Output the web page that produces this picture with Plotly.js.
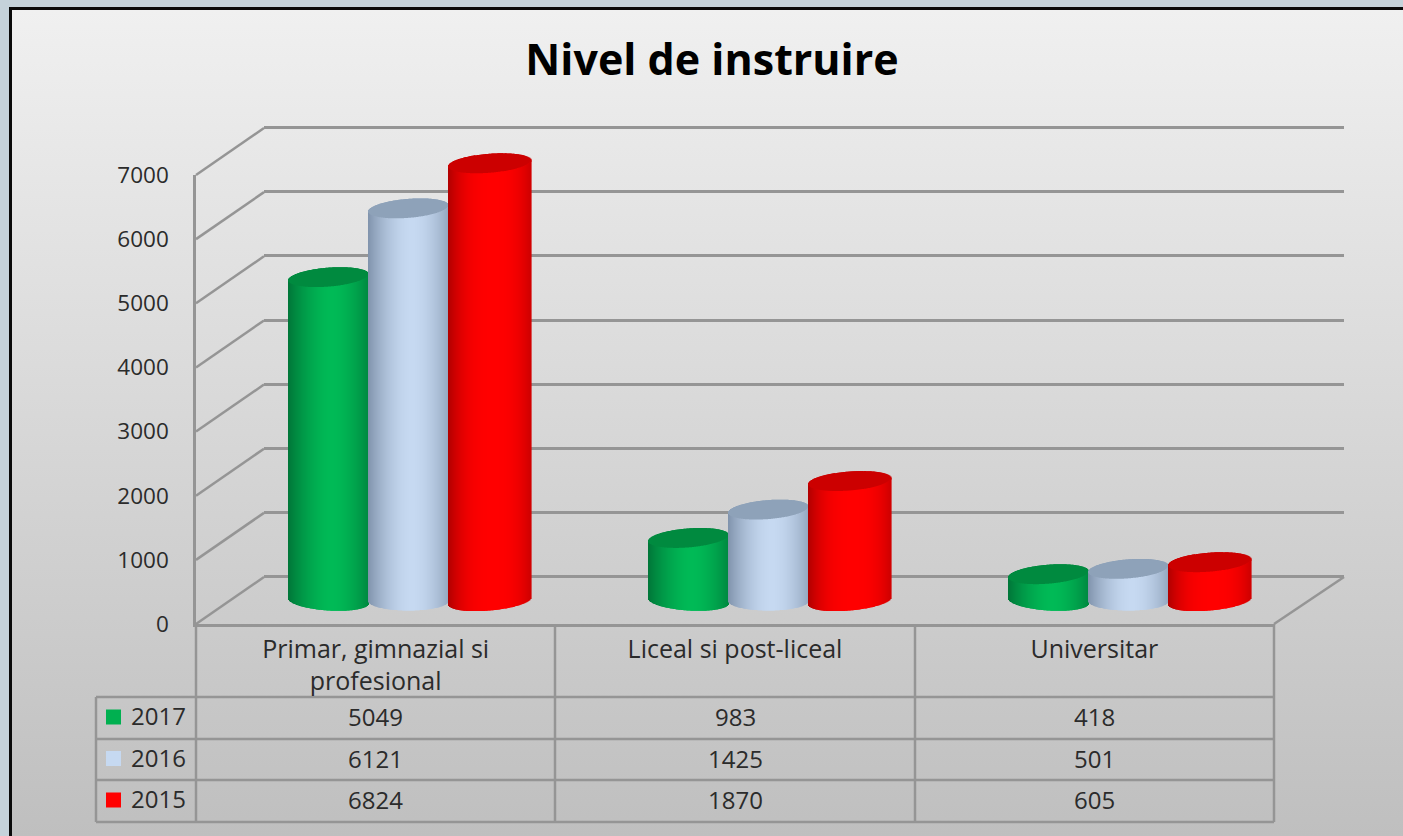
<!DOCTYPE html>
<html><head><meta charset="utf-8">
<script src="https://cdn.plot.ly/plotly-3.0.1.min.js"></script>
<style>
html,body{margin:0;padding:0;background:#c5d2da;overflow:hidden}
#frame{position:absolute;left:9px;top:7px;width:1394px;height:829px;box-sizing:border-box;border-left:3px solid #0a0a0a;border-top:3px solid #0a0a0a;background:linear-gradient(#f0f0f0,#bfbfbf)}
#chart{position:absolute;left:0;top:0;width:1403px;height:836px}
</style></head><body>
<div id="frame"></div><div id="chart"></div>
<script>
const titleText = "Nivel de instruire";
const categories = ["Primar, gimnazial si profesional", "Liceal si post-liceal", "Universitar"];
const categoryLabels = ["Primar, gimnazial si<br>profesional", "Liceal si post-liceal", "Universitar"];
const years = ["2017", "2016", "2015"];
const values2017 = [5049, 983, 418];
const values2016 = [6121, 1425, 501];
const values2015 = [6824, 1870, 605];
const yTicks = [0, 1000, 2000, 3000, 4000, 5000, 6000, 7000];

const W = 1403, H = 836;
const FONT = "'Open Sans', sans-serif", INK = "#2b2b2b", LINE = "#959595";
const xd = (a, b) => [a / W, b / W], yd = (t, b) => [1 - b / H, 1 - t / H];
const px = x => x / W, py = y => 1 - y / H;

// 3-D planes, in pixels
const front = {l: 196, r: 1274, top: 175, bottom: 624};
const back  = {l: 264, r: 1344, top: 127.5, bottom: 577};
const mid   = {l: 230, r: 1310, zero: 601};
const k = (front.bottom - front.top) / 7000;      // px per unit
const unit = (mid.r - mid.l) / 3;                 // px per category

const series = [
  {name: years[0], v: values2017, c: -82,  w: 80, dark: [0,118,56],    light: [0,186,86],    top: "#008a3f", key: "#00b050", tiltB: -2.5, pow: 1.7},
  {name: years[1], v: values2016, c: -2,   w: 80, dark: [128,147,172], light: [198,217,241], top: "#8ea2b9", key: "#c6d9f1", tiltB: 0,    pow: 1.8},
  {name: years[2], v: values2015, c: 79.5, w: 83, dark: [176,0,0],     light: [255,0,0],     top: "#cc0000", key: "#ff0000", tiltB: 3.5,  pow: 2.6}
];
const RY = 9.5 / k, TILT_TOP = 3 / k, N = 80;

const traces = [];
// carriers for the back wall (drawn first, under everything) and the front plane
traces.push({type: "scatter", mode: "none", x: [0, 1, 2], y: [0, 0, 0], xaxis: "x", yaxis: "y", showlegend: false, hoverinfo: "skip"});
traces.push({type: "scatter", mode: "none", x: [0, 1, 2], y: [0, 0, 0], xaxis: "x2", yaxis: "y2", showlegend: false, hoverinfo: "skip"});
series.forEach(s => {
  // the value bar itself, hidden inside the rounded cylinder
  const bw = 0.6 * s.w / unit;
  traces.push({type: "bar", name: s.name, x: categories, y: s.v, width: bw, offset: s.c / unit - bw / 2,
    marker: {color: s.key, line: {width: 0}}, showlegend: false, hoverinfo: "x+y+name", xaxis: "x3", yaxis: "y3"});
  // cylinder shading: narrow slices of each bar
  const X = [], Y = [], B = [], O = [], Wd = [], C = [];
  s.v.forEach((v, i) => {
    for (let j = 0; j < N; j++) {
      const u = -1 + (2 * j + 1) / N, sq = Math.sqrt(1 - u * u);
      const sw = s.w / N, off = (s.c + u * s.w / 2 - sw / 2) / unit;
      const t = 1 - Math.pow(Math.abs(u - 0.1) / 1.1, s.pow);
      const col = "rgb(" + s.dark.map((d, q) => Math.round(d + (s.light[q] - d) * t)).join(",") + ")";
      const b0 = -RY * sq + s.tiltB / k * u;
      const capBase = v + TILT_TOP * u - RY * sq;
      X.push(categories[i]); B.push(b0); Y.push(v + TILT_TOP * u - b0); O.push(off); Wd.push((sw + 0.6) / unit); C.push(col);
      X.push(categories[i]); B.push(capBase); Y.push(2 * RY * sq); O.push(off); Wd.push((sw + 0.6) / unit); C.push(s.top);
    }
  });
  traces.push({type: "bar", x: X, y: Y, base: B, offset: O, width: Wd,
    marker: {color: C, line: {width: 0}}, showlegend: false, hoverinfo: "skip", xaxis: "x3", yaxis: "y3"});
});

const shapes = [];
const seg = (x0, y0, x1, y1) => shapes.push({type: "line", xref: "paper", yref: "paper", x0: px(x0), y0: py(y0), x1: px(x1), y1: py(y1), line: {color: LINE, width: 2.5}, layer: "below"});
yTicks.forEach(t => {
  seg(front.l, front.bottom - t * k, back.l, back.bottom - t * k);
});
seg(front.r, front.bottom, back.r, back.bottom);
// data table rules
const rowY = [697, 739, 780, 822], colX = [front.l, 555, 915, front.r], tableL = 96;
rowY.forEach(y => seg(tableL, y, front.r, y));
colX.forEach(x => seg(x, front.bottom, x, rowY[3]));
seg(tableL, rowY[0], tableL, rowY[3]);
const annotations = [];
const rowC = [717.5, 759, 800.5];
series.forEach((s, r) => {
  shapes.push({type: "rect", xref: "paper", yref: "paper", x0: px(106), x1: px(121), y0: py(rowC[r] - 8), y1: py(rowC[r] + 7), fillcolor: s.key, line: {width: 0}});
  annotations.push({xref: "paper", yref: "paper", x: px(129), y: py(rowC[r] - 2), xanchor: "left", yanchor: "middle", text: s.name, showarrow: false, font: {family: FONT, size: 24, color: INK}});
  s.v.forEach((v, i) => annotations.push({xref: "x2", yref: "paper", x: i, y: py(rowC[r] - 1), xanchor: "center", yanchor: "middle", text: String(v), showarrow: false, font: {family: FONT, size: 24, color: INK}}));
});

const backPad = 300;
const layout = {
  width: W, height: H, margin: {l: 0, r: 0, t: 0, b: 0}, autosize: false,
  paper_bgcolor: "rgba(0,0,0,0)", plot_bgcolor: "rgba(0,0,0,0)",
  barmode: "overlay", showlegend: false, hovermode: "closest",
  title: {text: "<b>" + titleText + "</b>", x: 712 / W, xanchor: "center", y: 1 - 60 / H, yanchor: "middle", font: {family: FONT, size: 43, color: "#000"}},
  // back wall
  xaxis: {domain: xd(back.l, back.r), range: [-0.5, 2.5], anchor: "y", visible: false},
  yaxis: {domain: yd(back.top - backPad * k, back.bottom + backPad * k), range: [-backPad, 7000 + backPad], anchor: "x", showgrid: true, gridcolor: LINE, gridwidth: 2.5, zeroline: false, showline: false, tickmode: "array", tickvals: yTicks, showticklabels: false, ticks: ""},
  // front plane: tick labels and category labels
  xaxis2: {domain: xd(front.l, front.r), range: [-0.5, 2.5], anchor: "y2", showgrid: false, zeroline: false, showline: true, linecolor: LINE, linewidth: 2.5, tickmode: "array", tickvals: [0, 1, 2], ticktext: categoryLabels, ticks: "", tickangle: 0, ticklabelstandoff: 1, tickfont: {family: FONT, size: 25, color: INK}},
  yaxis2: {domain: yd(front.top, front.bottom), range: [0, 7000], anchor: "x2", showgrid: false, zeroline: false, showline: true, linecolor: LINE, linewidth: 2.5, tickmode: "array", tickvals: yTicks, ticks: "", ticklabelstandoff: 20, tickfont: {family: FONT, size: 22.5, color: INK}},
  // cylinders, on top
  xaxis3: {domain: xd(mid.l, mid.r), type: "category", categoryorder: "array", categoryarray: categories, range: [-0.5, 2.5], visible: false, anchor: "y3"},
  yaxis3: {domain: yd(mid.zero - 7400 * k, mid.zero + 400 * k), range: [-400, 7400], visible: false, anchor: "x3"},
  shapes, annotations
};
Plotly.newPlot("chart", traces, layout, {displayModeBar: false, responsive: false});
</script>
</body></html>
